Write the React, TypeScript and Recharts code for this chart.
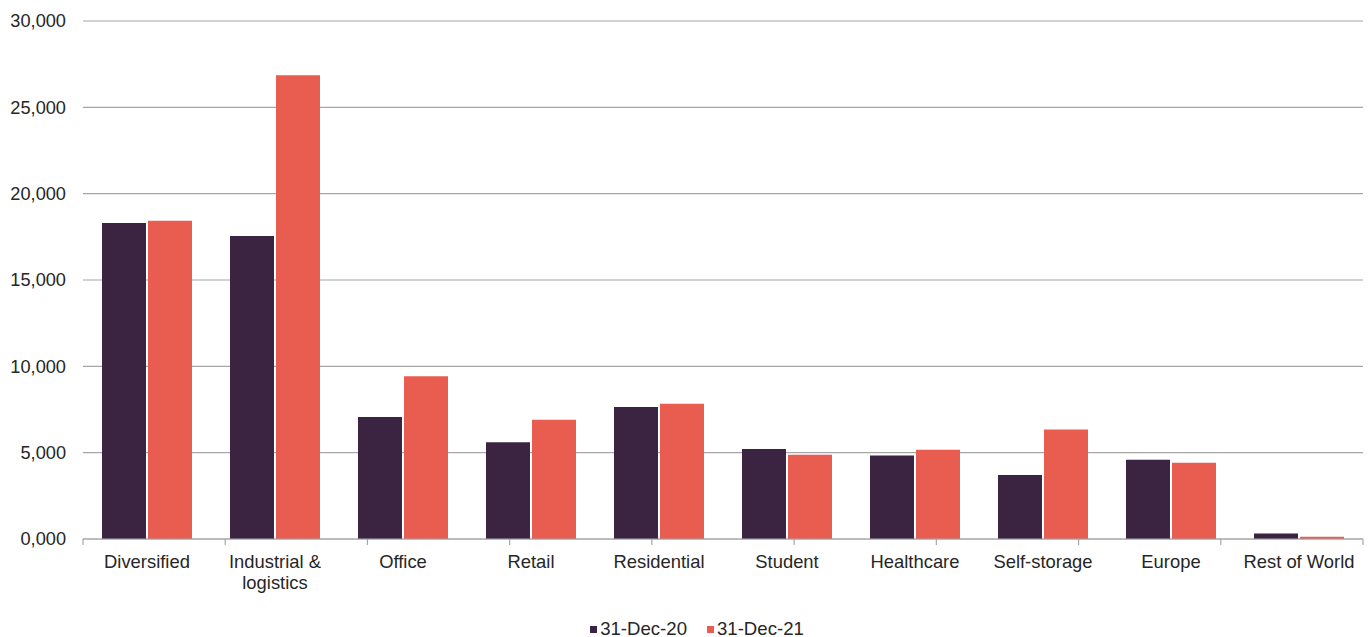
import React from 'react';
import { BarChart, Bar, XAxis, YAxis, CartesianGrid, Legend } from 'recharts';

const categories = [
  'Diversified', 'Industrial &\nlogistics', 'Office', 'Retail', 'Residential',
  'Student', 'Healthcare', 'Self-storage', 'Europe', 'Rest of World',
];
const dec20 = [18300, 17550, 7060, 5610, 7640, 5210, 4840, 3700, 4590, 320];
const dec21 = [18430, 26860, 9430, 6900, 7830, 4880, 5170, 6340, 4410, 130];
const yTicks = [0, 5000, 10000, 15000, 20000, 25000, 30000];
const seriesNames = ['31-Dec-20', '31-Dec-21'];
const seriesColors = ['#3B2441', '#E85D4F'];

const data = categories.map((c, i) => ({ name: c, a: dec20[i], b: dec21[i] }));
const bounds = [...categories.map((_, i) => i), categories.length];

const FONT = '"Liberation Sans", Arial, sans-serif';
const TEXT = '#262626';

const CatTick = (props: any) => {
  const { x, y, payload } = props;
  const lines = String(payload.value).split('\n');
  return (
    <text x={x} y={y} textAnchor="middle" fill={TEXT} fontSize={18.4} fontFamily={FONT}>
      {lines.map((l, i) => (
        <tspan key={i} x={x} dy={i === 0 ? '0.71em' : 21}>{l}</tspan>
      ))}
    </text>
  );
};

const LegendContent = () => (
  <div style={{
    display: 'flex', justifyContent: 'center', alignItems: 'flex-end', height: 30,
    paddingLeft: 22, boxSizing: 'border-box', fontFamily: FONT, fontSize: 18.6, color: TEXT,
  }}>
    {seriesNames.map((n, i) => (
      <div key={n} style={{ display: 'flex', alignItems: 'center', height: 16, lineHeight: '16px', marginLeft: i === 0 ? 0 : 20 }}>
        <span style={{ display: 'inline-block', width: 7, height: 7, background: seriesColors[i], marginRight: 3 }} />
        {n}
      </div>
    ))}
  </div>
);

export default function App() {
  return (
    <div style={{ position: 'absolute', left: 0, top: 0 }}>
      <BarChart
        width={1372}
        height={637}
        data={data}
        margin={{ top: 21, right: 9, left: 0, bottom: 66 }}
        barCategoryGap={19}
        barGap={2}
      >
        <CartesianGrid horizontal vertical={false} stroke="#A6A6A6" strokeWidth={1.2} />
        <XAxis
          xAxisId={0}
          type="number"
          domain={[0, categories.length]}
          ticks={bounds}
          height={1}
          tickFormatter={() => ''}
          tickSize={6}
          axisLine={{ stroke: '#A6A6A6', strokeWidth: 1.2 }}
          tickLine={{ stroke: '#A6A6A6', strokeWidth: 1.2 }}
        />
        <XAxis
          xAxisId="cat"
          dataKey="name"
          height={1}
          interval={0}
          axisLine={false}
          tickLine={false}
          tickSize={0}
          tickMargin={15}
          tick={<CatTick />}
        />
        <YAxis
          domain={[0, 30000]}
          ticks={yTicks}
          width={83}
          axisLine={false}
          tickLine={false}
          tickSize={0}
          tickMargin={17}
          tick={{ fill: TEXT, fontSize: 18.2, fontFamily: FONT }}
          tickFormatter={(v: number) => (v === 0 ? '0,000' : v.toLocaleString('en-US'))}
        />
        <Legend verticalAlign="bottom" height={30} wrapperStyle={{ left: 0, width: 1372, bottom: 0 }} content={<LegendContent />} />
        <Bar xAxisId="cat" dataKey="a" name={seriesNames[0]} fill={seriesColors[0]} isAnimationActive={false} />
        <Bar xAxisId="cat" dataKey="b" name={seriesNames[1]} fill={seriesColors[1]} isAnimationActive={false} />
      </BarChart>
    </div>
  );
}
